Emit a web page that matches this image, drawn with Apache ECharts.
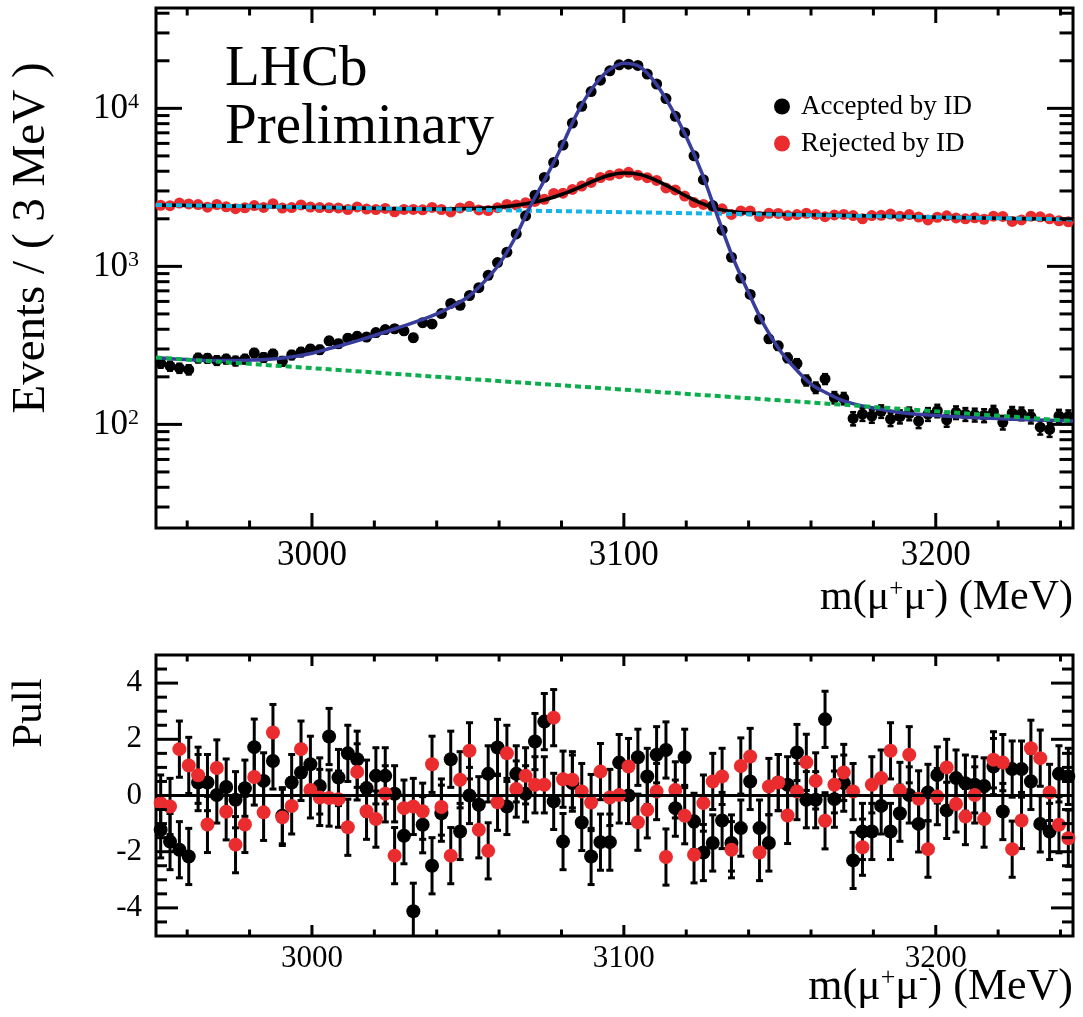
<!DOCTYPE html>
<html><head><meta charset="utf-8">
<script src="https://cdn.jsdelivr.net/npm/echarts@6/dist/echarts.min.js"></script>
<style>html,body{margin:0;padding:0;background:#fff;}#c{width:1083px;height:1017px;}</style>
</head><body><div id="c"></div>
<script>
// ---------------- data ----------------
const BIN_CENTERS = [2951.5,2954.5,2957.5,2960.5,2963.5,2966.5,2969.5,2972.5,2975.5,2978.5,
2981.5,2984.5,2987.5,2990.5,2993.5,2996.5,2999.5,3002.5,3005.5,3008.5,
3011.5,3014.5,3017.5,3020.5,3023.5,3026.5,3029.5,3032.5,3035.5,3038.5,
3041.5,3044.5,3047.5,3050.5,3053.5,3056.5,3059.5,3062.5,3065.5,3068.5,
3071.5,3074.5,3077.5,3080.5,3083.5,3086.5,3089.5,3092.5,3095.5,3098.5,
3101.5,3104.5,3107.5,3110.5,3113.5,3116.5,3119.5,3122.5,3125.5,3128.5,
3131.5,3134.5,3137.5,3140.5,3143.5,3146.5,3149.5,3152.5,3155.5,3158.5,
3161.5,3164.5,3167.5,3170.5,3173.5,3176.5,3179.5,3182.5,3185.5,3188.5,
3191.5,3194.5,3197.5,3200.5,3203.5,3206.5,3209.5,3212.5,3215.5,3218.5,
3221.5,3224.5,3227.5,3230.5,3233.5,3236.5,3239.5,3242.5];

const ACC_COUNTS = [244,234,227,222,263,262,254,259,252,259,
283,265,279,251,275,287,300,297,338,324,
351,361,357,381,398,403,391,354,440,432,
503,583,567,653,733,878,1057,1229,1603,2088,
2821,3656,4548,5859,8069,10302,12765,15077,17271,18844,
19026,18675,16477,14258,11530,8909,7010,5007,3539,2427,
1695,1142,843,664,464,348,314,264,243,190,
171,194,148,146,109,116,113,121,108,112,
117,105,116,122,107,119,116,115,114,120,
103,118,117,112,96,93,113,112];

const REJ_COUNTS = [2433,2422,2517,2483,2460,2369,2463,2381,2318,2349,
2426,2360,2493,2340,2355,2448,2373,2355,2349,2342,
2288,2379,2306,2288,2326,2215,2291,2291,2281,2361,
2290,2210,2344,2399,2275,2253,2352,2467,2449,2527,
2577,2656,2893,2907,3067,3223,3400,3651,3768,3858,
3940,3769,3641,3498,3135,3047,2785,2532,2467,2386,
2312,2130,2243,2238,2068,2166,2162,2098,2128,2167,
2130,2062,2115,2131,2095,2001,2097,2104,2143,2075,
2128,2053,1967,2046,2089,2025,2001,2031,1987,2078,
2069,1926,1967,2078,2058,1998,1943,1916];

const ACC_PULL = [-1.22,-1.64,-1.93,-2.17,0.46,0.46,0.02,0.30,-0.15,0.26,
1.72,0.52,1.23,-0.72,0.46,0.82,1.11,0.34,2.10,0.64,
1.50,1.29,0.26,0.70,0.70,0.06,-1.43,-4.12,-1.04,-2.50,
-0.63,1.29,-1.28,0.00,-0.33,0.77,1.71,-0.39,0.77,0.06,
1.92,2.63,-0.21,-1.64,0.44,-0.96,-2.17,-1.66,-1.66,1.17,
0.00,1.36,0.68,1.45,1.62,-0.45,1.36,-0.92,-2.03,-1.69,
-0.89,-1.69,-1.16,0.50,-1.16,-1.69,0.46,0.38,1.53,-0.15,
-0.15,2.71,-0.13,0.44,-2.31,-1.28,-1.28,-0.37,-1.28,-0.63,
0.02,-1.01,0.11,0.73,-0.53,0.62,0.44,0.38,0.34,1.03,
-0.57,0.94,0.94,0.50,-1.01,-1.28,0.77,0.68];

const REJ_PULL = [-0.27,-0.39,1.65,1.07,0.72,-1.03,0.98,-0.58,-1.75,-1.03,
0.66,-0.60,2.24,-0.78,-0.37,1.65,0.20,-0.07,-0.09,-0.13,
-1.13,0.84,-0.56,-0.84,0.06,-2.14,-0.45,-0.39,-0.56,1.11,
-0.41,-2.14,0.56,1.59,-1.22,-1.97,-0.24,1.50,0.23,0.70,
0.38,0.38,2.77,0.58,0.56,0.14,-0.25,0.85,-0.07,0.02,
1.03,-0.95,-0.51,0.14,-2.19,0.20,-0.72,-2.11,-0.27,0.50,
0.68,-1.93,1.05,1.39,-2.03,0.32,0.46,-0.71,0.14,1.18,
0.52,-0.90,0.38,0.82,0.14,-1.84,0.38,0.62,1.59,0.18,
1.45,-0.12,-1.91,-0.04,1.00,-0.30,-0.75,0.02,-0.84,1.27,
1.17,-1.91,-0.89,1.68,1.33,0.11,-1.04,-1.52];

const FIT_ACC_MASS = [2950,2955,2960,2965,2970,2975,2980,2985,2990,2995,3000,3005,3010,3015,3020,3025,3030,3035,3040,3045,3050,3055,3060,3065,3070,3075,3080,3085,3090,3095,3100,3105,3110,3115,3120,3125,3130,3135,3140,3145,3150,3155,3160,3165,3170,3175,3180,3190,3200,3210,3220,3230,3244];
const FIT_ACC = [265,260,257,255,254,254,255,257,262,270,282,300,318,340,365,393,423,458,500,560,640,790,1030,1500,2400,3650,5700,9300,13500,17300,19300,18400,14600,10200,6600,3900,2080,1130,680,425,295,225,180,158,142,133,127,118,114,111,109,107,105];

const FIT_REJ_MASS = [2950,3000,3040,3050,3055,3060,3065,3070,3075,3080,3085,3090,3095,3100,3105,3110,3115,3120,3125,3130,3135,3140,3150,3160,3200,3244];
const FIT_REJ = [2449,2367,2305,2320,2340,2370,2430,2520,2650,2850,3120,3450,3760,3900,3820,3530,3150,2790,2500,2310,2215,2175,2140,2118,2049,1982];

const BKG_MASS = [2950,3000,3050,3100,3150,3200,3244];
const BKG_ACC = [265,227,194,166,142,121,105];
const BKG_REJ = [2449,2367,2283,2203,2124,2049,1982];

const ZERO_LINE_X = [2950,3244];
const ZERO_LINE_Y = [0,0];

const X_MAJOR_TICKS = [3000,3100,3200];
const X_MINOR_TICKS = [2960,2980,3020,3040,3060,3080,3120,3140,3160,3180,3220,3240];
const LOG_MAJOR_TICKS = [100,1000,10000];
const LOG_MINOR_TICKS = [30,40,50,60,70,80,90,200,300,400,500,600,700,800,900,2000,3000,4000,5000,6000,7000,8000,9000,20000,30000,40000];
const PULL_MAJOR_TICKS = [-4,-2,0,2,4];
const PULL_MINOR_TICKS = [-4.5,-3.5,-3,-2.5,-1.5,-1,-0.5,0.5,1,1.5,2.5,3,3.5,4.5];

// ---------------- chart ----------------
const FONT = 'Liberation Serif';
const RED = '#ea2c2e', BLUE = '#383c9c', CYAN = '#14b3e8', GREEN = '#0aae4c';
const X_MIN = 2950, X_MAX = 3244, Y_MIN = 22.1, Y_MAX = 43150;

function pairs(xs, ys){ return xs.map((x,i)=>[x, ys[i]]); }
function ln(x1,y1,x2,y2,w){ return {type:'line', shape:{x1,y1,x2,y2}, style:{stroke:'#000', lineWidth:w||3}}; }

function tickSeries(grid, data, isX, majLen, minLen){
  return {type:'custom', xAxisIndex:grid, yAxisIndex:grid, silent:true, z:10, data,
    renderItem(params, api){
      const cs = params.coordSys;
      const p = api.coord([api.value(0), api.value(1)]);
      const L = api.value(2) ? majLen : minLen;
      if (isX) return {type:'group', children:[
        ln(p[0], cs.y+cs.height, p[0], cs.y+cs.height-L),
        ln(p[0], cs.y, p[0], cs.y+L)]};
      return {type:'group', children:[
        ln(cs.x, p[1], cs.x+L, p[1]),
        ln(cs.x+cs.width, p[1], cs.x+cs.width-L, p[1])]};
    }};
}
function yTicks(grid, xRef, majLen, minLen){
  const data = LOG_MAJOR_TICKS.map(v=>[xRef, v, 1]).concat(LOG_MINOR_TICKS.map(v=>[xRef, v, 0]));
  return tickSeries(grid, data, false, majLen, minLen);
}
function xTicks(grid, yRef, majLen, minLen){
  const data = X_MAJOR_TICKS.map(v=>[v, yRef, 1]).concat(X_MINOR_TICKS.map(v=>[v, yRef, 0]));
  return tickSeries(grid, data, true, majLen, minLen);
}
function errBars(grid, data, halfFn, cap, w, clip){
  return {type:'custom', xAxisIndex:grid, yAxisIndex:grid, silent:true, clip:!!clip, data,
    renderItem(params, api){
      const m = api.value(0), v = api.value(1), e = halfFn(v);
      const a = api.coord([m, v+e]), b = api.coord([m, v-e]);
      return {type:'group', children:[
        ln(a[0], a[1], b[0], b[1], w),
        ln(a[0]-cap, a[1], a[0]+cap, a[1], w),
        ln(b[0]-cap, b[1], b[0]+cap, b[1], w)]};
    }};
}

const fmtX = v => (Math.abs(v % 100) < 1e-6 ? String(v) : '');
const fmtLog = v => { const l = Math.log10(v), e = Math.round(l); return Math.abs(l-e) < 1e-6 ? '{b|10}{s|'+e+'}' : ''; };
const fmtPull = v => (Math.round(v) % 2 === 0 ? String(Math.round(v)) : '');

const chart = echarts.init(document.getElementById('c'));
chart.setOption({
  animation:false,
  backgroundColor:'#fff',
  grid:[
    {left:156, top:8, width:917, height:520, show:true, borderColor:'#000', borderWidth:3, backgroundColor:'transparent'},
    {left:156, top:655, width:917, height:281, show:true, borderColor:'#000', borderWidth:3, backgroundColor:'transparent'}
  ],
  xAxis:[
    {gridIndex:0, type:'value', min:X_MIN, max:X_MAX, interval:50, axisLine:{show:false}, axisTick:{show:false}, splitLine:{show:false},
     axisLabel:{formatter:fmtX, fontFamily:FONT, fontSize:35, color:'#000', margin:10, showMinLabel:false, showMaxLabel:false}},
    {gridIndex:1, type:'value', min:X_MIN, max:X_MAX, interval:50, axisLine:{show:false}, axisTick:{show:false}, splitLine:{show:false},
     axisLabel:{formatter:fmtX, fontFamily:FONT, fontSize:31, color:'#000', margin:7, showMinLabel:false, showMaxLabel:false}}
  ],
  yAxis:[
    {gridIndex:0, type:'log', logBase:10, min:Y_MIN, max:Y_MAX, axisLine:{show:false}, axisTick:{show:false}, splitLine:{show:false},
     axisLabel:{formatter:fmtLog, margin:17, showMinLabel:false, showMaxLabel:false,
       rich:{b:{fontFamily:FONT, fontSize:35, color:'#000'}, s:{fontFamily:FONT, fontSize:22, color:'#000', verticalAlign:'top'}}}},
    {gridIndex:1, type:'value', min:-5, max:5, interval:1, axisLine:{show:false}, axisTick:{show:false}, splitLine:{show:false},
     axisLabel:{formatter:fmtPull, fontFamily:FONT, fontSize:31, color:'#000', margin:14, showMinLabel:false, showMaxLabel:false}}
  ],
  legend:{data:['Accepted by ID','Rejected by ID'], orient:'vertical', left:769, top:88, itemWidth:16, itemHeight:16, itemGap:10,
    selectedMode:false, icon:'circle', textStyle:{fontFamily:FONT, fontSize:27, color:'#000', padding:[0,0,0,6]}},
  series:[
    {name:'Rejected by ID', type:'scatter', xAxisIndex:0, yAxisIndex:0, symbolSize:11, itemStyle:{color:RED, opacity:1}, data:pairs(BIN_CENTERS, REJ_COUNTS), silent:true},
    errBars(0, pairs(BIN_CENTERS, ACC_COUNTS), v=>Math.sqrt(v), 3, 2.5, false),
    {name:'Accepted by ID', type:'scatter', xAxisIndex:0, yAxisIndex:0, symbolSize:11, itemStyle:{color:'#000', opacity:1}, data:pairs(BIN_CENTERS, ACC_COUNTS), silent:true},
    {name:'Rejected fit', type:'line', xAxisIndex:0, yAxisIndex:0, showSymbol:false, smooth:0.3, lineStyle:{color:'#000', width:3.5}, data:pairs(FIT_REJ_MASS, FIT_REJ), silent:true},
    {name:'Rejected bkg', type:'line', xAxisIndex:0, yAxisIndex:0, showSymbol:false, lineStyle:{color:CYAN, width:4, type:[6,4]}, data:pairs(BKG_MASS, BKG_REJ), silent:true},
    {name:'Accepted fit', type:'line', xAxisIndex:0, yAxisIndex:0, showSymbol:false, smooth:0.3, lineStyle:{color:BLUE, width:3.5}, data:pairs(FIT_ACC_MASS, FIT_ACC), silent:true},
    {name:'Accepted bkg', type:'line', xAxisIndex:0, yAxisIndex:0, showSymbol:false, lineStyle:{color:GREEN, width:4, type:[6,4]}, data:pairs(BKG_MASS, BKG_ACC), silent:true},
    xTicks(0, 100, 15, 7.5),
    yTicks(0, X_MIN, 26, 13.5),

    {name:'zero', type:'line', xAxisIndex:1, yAxisIndex:1, showSymbol:false, lineStyle:{color:'#000', width:3}, data:pairs(ZERO_LINE_X, ZERO_LINE_Y), silent:true},
    errBars(1, pairs(BIN_CENTERS, ACC_PULL), ()=>1, 3.5, 3, true),
    {name:'Accepted pull', type:'scatter', xAxisIndex:1, yAxisIndex:1, symbolSize:14, itemStyle:{color:'#000', opacity:1}, data:pairs(BIN_CENTERS, ACC_PULL), silent:true},
    errBars(1, pairs(BIN_CENTERS, REJ_PULL), ()=>1, 3.5, 3, true),
    {name:'Rejected pull', type:'scatter', xAxisIndex:1, yAxisIndex:1, symbolSize:14, itemStyle:{color:RED, opacity:1}, data:pairs(BIN_CENTERS, REJ_PULL), silent:true},
    xTicks(1, 0, 11, 6.5),
    tickSeries(1, PULL_MAJOR_TICKS.map(v=>[X_MIN, v, 1]).concat(PULL_MINOR_TICKS.map(v=>[X_MIN, v, 0])), false, 22, 11)
  ],
  graphic:[
    {type:'text', silent:true, style:{x:225, y:70, text:'LHCb', fontFamily:FONT, fontSize:57, fill:'#000', verticalAlign:'middle'}},
    {type:'text', silent:true, style:{x:225, y:128, text:'Preliminary', fontFamily:FONT, fontSize:57, fill:'#000', verticalAlign:'middle'}},
    {type:'text', silent:true, x:32, y:238, rotation:Math.PI/2, style:{x:0, y:0, text:'Events / ( 3 MeV )', fontFamily:FONT, fontSize:47, fill:'#000', align:'center', verticalAlign:'middle'}},
    {type:'text', silent:true, x:30, y:713, rotation:Math.PI/2, style:{x:0, y:0, text:'Pull', fontFamily:FONT, fontSize:43, fill:'#000', align:'center', verticalAlign:'middle'}},
    {type:'text', silent:true, style:{x:1073, y:598, text:'{a|m(μ}{s|+}{a|μ}{s|-}{a|) (MeV)}', align:'right', verticalAlign:'middle',
      rich:{a:{fontFamily:FONT, fontSize:42, color:'#000'}, s:{fontFamily:FONT, fontSize:25, color:'#000', verticalAlign:'top'}}}},
    {type:'text', silent:true, style:{x:1073, y:987, text:'{a|m(μ}{s|+}{a|μ}{s|-}{a|) (MeV)}', align:'right', verticalAlign:'middle',
      rich:{a:{fontFamily:FONT, fontSize:44, color:'#000'}, s:{fontFamily:FONT, fontSize:26, color:'#000', verticalAlign:'top'}}}}
  ]
});
</script></body></html>
